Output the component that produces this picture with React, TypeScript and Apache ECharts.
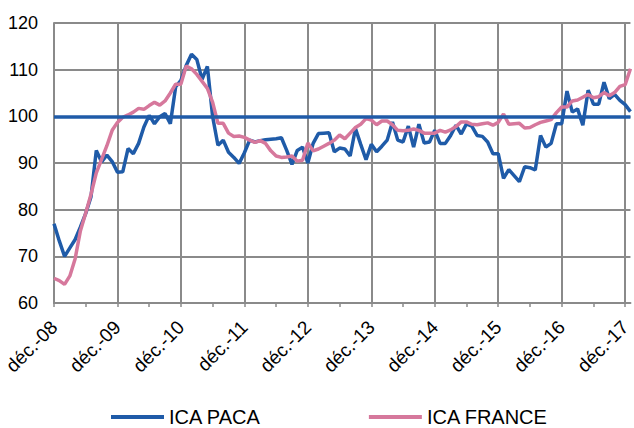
import React, { useEffect, useRef } from "react";
import * as echarts from "echarts";

const MONTHS = ["janv.", "févr.", "mars", "avr.", "mai", "juin", "juil.", "août", "sept.", "oct.", "nov.", "déc."];
const START_YEAR = 2008;
const START_MONTH = 11; // déc.
const N_POINTS = 110;

const categories: string[] = [];
for (let i = 0; i < N_POINTS; i++) {
  const m = (START_MONTH + i) % 12;
  const y = START_YEAR + Math.floor((START_MONTH + i) / 12);
  categories.push(MONTHS[m] + "-" + String(y % 100).padStart(2, "0"));
}

const icaPaca = [
  77, 73.3, 70, 71.8, 73.6, 76.3, 79.2, 82.8, 92.7, 90.2,
  91.7, 90.3, 88, 88.1, 93.1, 92, 94.2, 97.7, 100.2, 98.4,
  99.9, 100.6, 98.4, 106.3, 107.7, 110.9, 113.3, 112.2, 107.9, 110.7,
  99.9, 93.8, 94.9, 92.3, 91.2, 89.9, 92.2, 94.9, 94.5, 94.8,
  95, 95.1, 95.2, 95.4, 92.7, 89.7, 92.7, 93.4, 90, 94.2,
  96.3, 96.4, 96.5, 92.4, 93.2, 93, 91.5, 97.4, 94, 90.7,
  94, 92.4, 93.6, 94.9, 98.8, 94.9, 94.5, 97.9, 93.4, 98.3,
  94.3, 94.5, 97, 94.2, 94.2, 95.9, 98.1, 96.2, 98.4, 97.9,
  95.9, 95.7, 94.5, 92, 92, 86.7, 88.6, 87.3, 86, 89.2,
  89, 88.5, 95.9, 93.4, 94.2, 98.4, 98.4, 105.4, 100.9, 101.6,
  98.1, 105.6, 102.6, 102.6, 107.3, 103.8, 104.7, 103.4, 102.5, 101,
];

const icaFrance = [
  65.3, 64.8, 64, 65.8, 69.5, 75.5, 79.3, 83.3, 87.9, 90.8,
  93.7, 97, 98.7, 99.8, 100.3, 100.9, 101.7, 101.5, 102.3, 103,
  102.4, 103.3, 105, 106.9, 106.9, 110.8, 110.2, 109, 107.5, 106,
  103, 98.5, 98.5, 96.4, 95.7, 95.8, 95.5, 94.9, 94.4, 94.8,
  94.2, 92.6, 91.5, 91.2, 91.3, 91.5, 90.4, 90.6, 94.3, 92.6,
  93, 93.6, 94.2, 94.9, 96, 95.2, 96.4, 97.6, 98.3, 99.5,
  99.2, 98.2, 99, 99, 98.2, 97, 96.9, 97, 97.3, 97,
  96.4, 96.4, 96.4, 97, 96.6, 97.1, 97.8, 98.8, 98.8, 98.3,
  98.2, 98.4, 98.6, 98.1, 98.7, 100.5, 98.3, 98.4, 98.5, 97.5,
  97.6, 98.2, 98.7, 99, 99.3, 100.8, 102, 102, 103.3, 103.5,
  104.1, 104.7, 104, 104.2, 105.1, 104.4, 105.1, 106.4, 106.8, 110.2,
];

const REFERENCE_LEVEL = 100;
const Y_TICKS = [60, 70, 80, 90, 100, 110, 120];

const BLUE = "#1f5ba8";
const PINK = "#d6789c";
const GRID = "#8a8a8a";
const FONT = "Liberation Sans, Arial, sans-serif";

export default function App() {
  const ref = useRef<HTMLDivElement>(null);

  useEffect(() => {
    document.body.style.margin = "0";
    if (!ref.current) return;
    const chart = echarts.init(ref.current, undefined, { renderer: "svg" });
    chart.setOption({
      animation: false,
      backgroundColor: "#ffffff",
      textStyle: { fontFamily: FONT },
      grid: { left: 54, right: 0, top: 23, bottom: 125, containLabel: false },
      legend: {
        left: 111,
        top: 406,
        padding: 0,
        itemWidth: 53,
        itemHeight: 4,
        itemGap: 108,
        icon: "rect",
        textStyle: { fontSize: 20, color: "#000", fontFamily: FONT, lineHeight: 22 },
        data: [
          { name: "ICA PACA", itemStyle: { color: BLUE } },
          { name: "ICA FRANCE", itemStyle: { color: PINK } },
        ],
      },
      xAxis: {
        type: "category",
        data: categories,
        boundaryGap: false,
        axisLine: { show: true, lineStyle: { color: GRID, width: 2 } },
        axisTick: {
          show: true,
          interval: (i: number) => i % 6 === 0,
          length: 4,
          lineStyle: { color: GRID, width: 1.5 },
        },
        axisLabel: {
          interval: (i: number) => i % 12 === 0,
          rotate: 45,
          margin: 21,
          fontSize: 19,
          color: "#000",
          fontFamily: FONT,
        },
        splitLine: {
          show: true,
          interval: (i: number) => i % 12 === 0,
          lineStyle: { color: GRID, width: 2 },
        },
      },
      yAxis: {
        type: "value",
        min: Y_TICKS[0],
        max: Y_TICKS[Y_TICKS.length - 1],
        interval: 10,
        axisLine: { show: true, lineStyle: { color: GRID, width: 2 } },
        axisTick: { show: false },
        axisLabel: { fontSize: 18, color: "#000", margin: 16, fontFamily: FONT },
        splitLine: { show: true, lineStyle: { color: GRID, width: 2 } },
      },
      series: [
        {
          name: "ICA PACA",
          type: "line",
          data: icaPaca,
          symbol: "none",
          lineStyle: { color: BLUE, width: 3.5 },
          itemStyle: { color: BLUE },
          markLine: {
            silent: true,
            symbol: "none",
            label: { show: false },
            lineStyle: { color: BLUE, width: 3.5, type: "solid" },
            data: [{ yAxis: REFERENCE_LEVEL }],
          },
        },
        {
          name: "ICA FRANCE",
          type: "line",
          data: icaFrance,
          symbol: "none",
          lineStyle: { color: PINK, width: 3.5 },
          itemStyle: { color: PINK },
        },
      ],
    });
    return () => chart.dispose();
  }, []);

  return (
    <div
      ref={ref}
      style={{ position: "fixed", left: 0, top: 0, width: 634, height: 428 }}
    />
  );
}
